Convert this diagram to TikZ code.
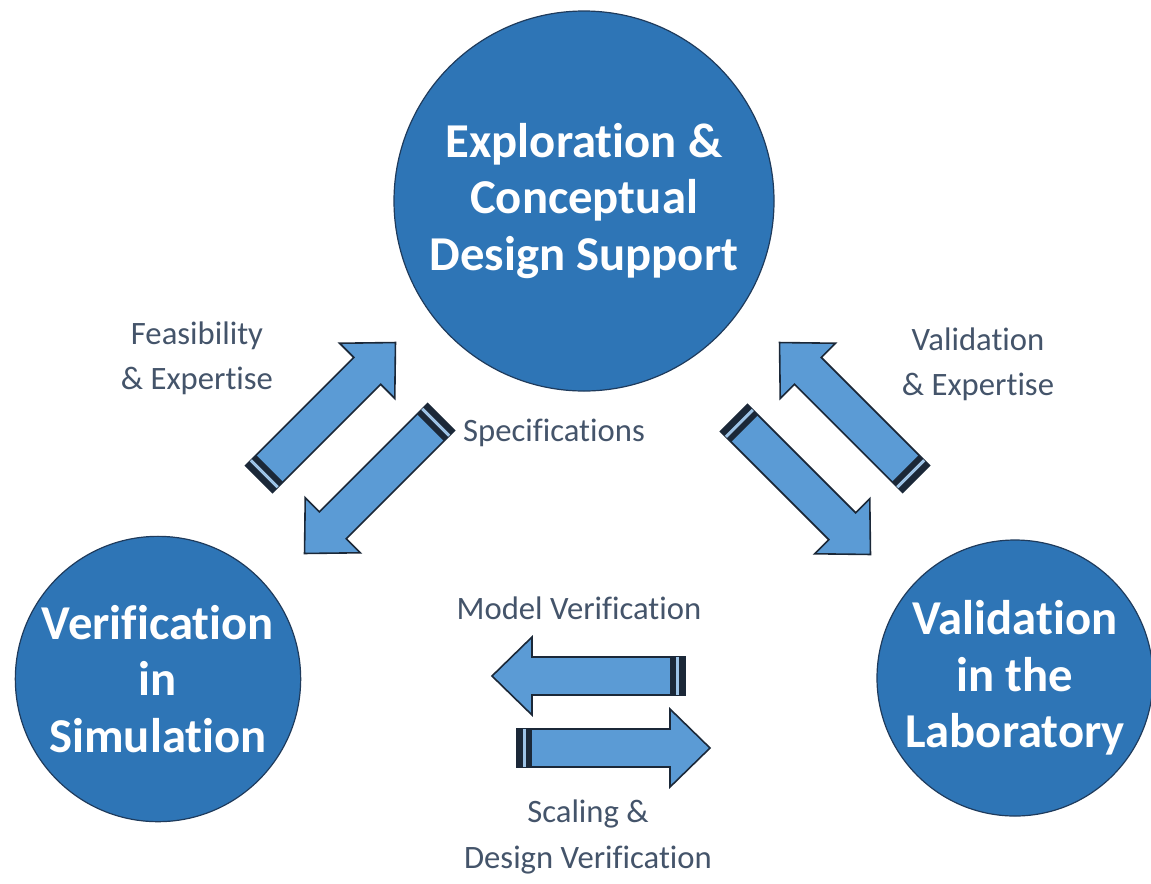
\documentclass[tikz,border=0pt]{standalone}
\usepackage{fontspec}
\setmainfont{Carlito}[Ligatures=NoCommon]
\usepackage{xcolor}
\usepackage{tikz}
\usetikzlibrary{positioning}

\definecolor{circfill}{HTML}{2E75B6}
\definecolor{circline}{HTML}{1F3B5C}
\definecolor{arrfill}{HTML}{5B9BD5}
\definecolor{arrline}{HTML}{1B2838}
\definecolor{labtext}{HTML}{44546A}

\begin{document}
\begin{tikzpicture}[
    x=0.75pt, y=-0.75pt,
    stage/.style={circle, draw=circline, line width=0.9pt, fill=circfill, inner sep=0pt, align=center, text=white, font=\fontsize{36.5}{42.5}\selectfont\bfseries},
    lbl/.style={align=center, text=labtext, font=\fontsize{24.5}{34}\selectfont},
    blockarrow/.pic={
        \filldraw[fill=arrfill, draw=arrline, line width=1.2pt, line join=miter]
            (0,-19) -- (153,-19) -- (153,-39) -- (193,0) -- (153,39) -- (153,19) -- (0,19) -- cycle;
        \fill[arrline] (0,-19) rectangle (15,19);
        \fill[arrfill!60!white] (6,-19) rectangle (9,19);
    }
]
    \useasboundingbox (0,0) rectangle (1151,883);

    \node[stage, minimum size=285pt] (explore) at (584,201) {Exploration \&\\Conceptual\\Design Support};
    \node[stage, minimum size=214pt] (verif) at (158,679) {Verification\\in\\Simulation};
    \node[stage, minimum size=207pt] (valid) at (1015,678) {Validation\\in the\\Laboratory};

    \node[lbl] (feas) at (197,358) {Feasibility\\\& Expertise};
    \node[lbl] (spec) at (554,433) {Specifications};
    \node[lbl] (valexp) at (978,364) {Validation\\\& Expertise};
    \node[lbl] (model) at (579,608) {Model Verification};
    \node[lbl] (scaling) at (588,837) {Scaling \&\\Design Verification};

    % block arrows, tail at the given point
    \pic[rotate=45] at (259,479) {blockarrow};
    \pic[rotate=225] at (441,417) {blockarrow};
    \pic[rotate=-45] at (734,418) {blockarrow};
    \pic[rotate=135] at (916,479) {blockarrow};
    \pic[rotate=180] at (685,676) {blockarrow};
    \pic at (517,748) {blockarrow};
\end{tikzpicture}
\end{document}
